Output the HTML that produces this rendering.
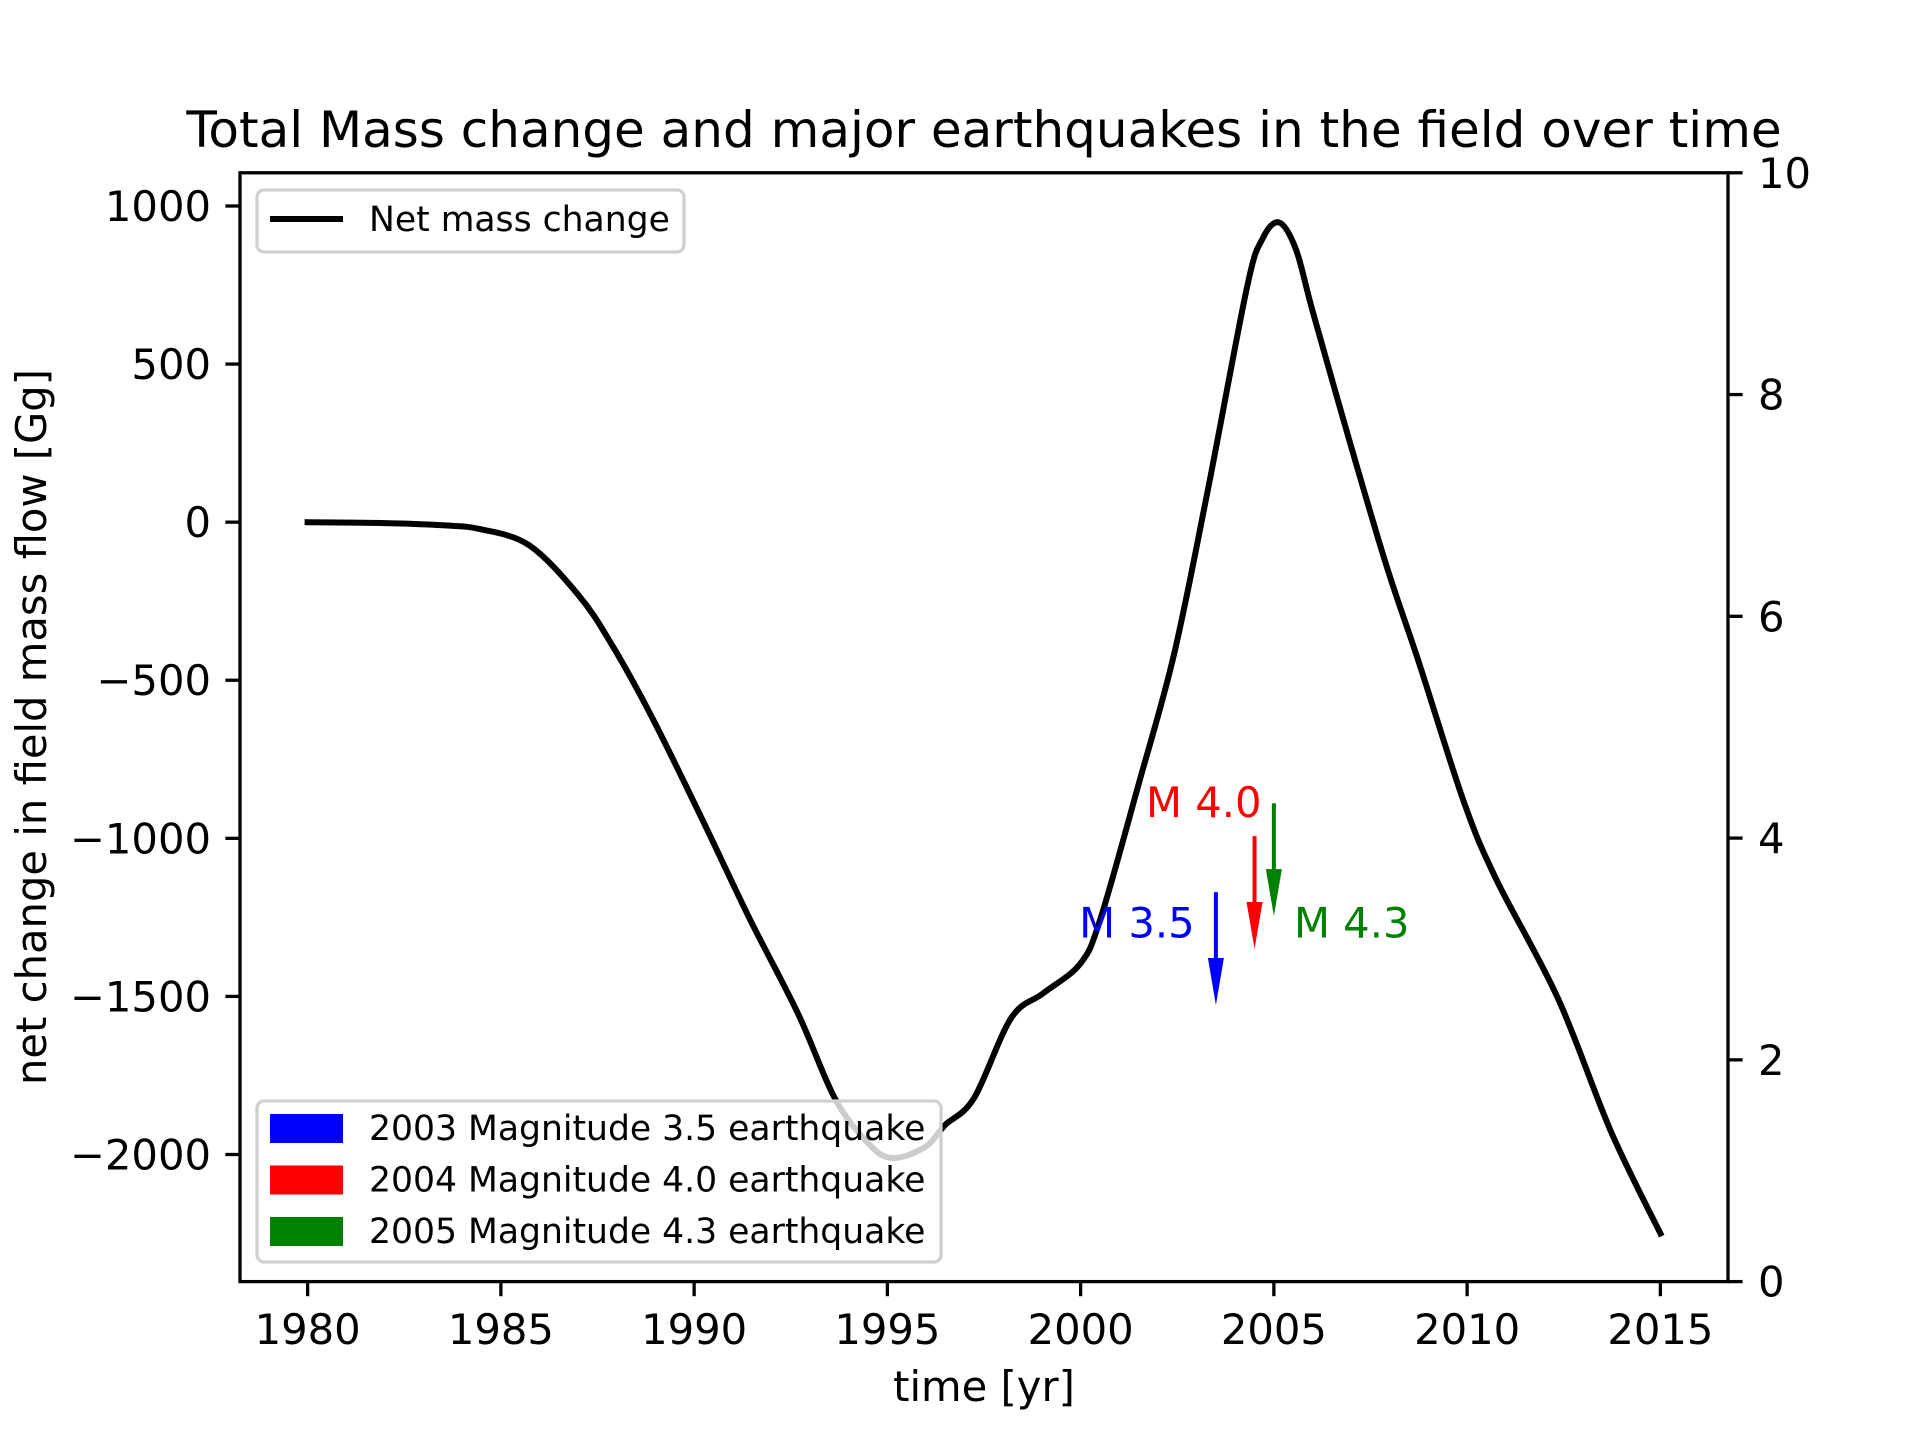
<!DOCTYPE html>
<html><head><meta charset="utf-8"><style>
html,body{margin:0;padding:0;background:#fff;}
svg{display:block;font-family:"DejaVu Sans","Liberation Sans",sans-serif;}
</style></head><body>
<svg id="chart" width="1920" height="1440" viewBox="0 0 1920 1440" xmlns="http://www.w3.org/2000/svg">
<rect width="1920" height="1440" fill="#fff"/>
<text x="984" y="147" font-size="50" text-anchor="middle">Total Mass change and major earthquakes in the field over time</text>
<g id="plot"></g>
</svg>
<script>
const years = [1980,1982,1983.5,1984.46,1985.73,1986.99,1987.85,1988.88,1990.15,1991.42,1992.69,1993.64,1994.5,1995.12,1995.97,1996.49,1997.24,1998.2,1999.03,1999.98,2000.5,2001.5,2002.41,2003.27,2004.3,2004.7,2005.13,2005.57,2006.01,2006.94,2007.9,2008.75,2009.92,2010.75,2012.35,2013.72,2015];
const massValues = [0,-3,-10,-22,-73,-228,-383,-610,-925,-1250,-1555,-1822,-1964,-2011,-1977,-1907,-1822,-1569,-1490,-1398,-1260,-829,-421,88,740,895,948,863,664,265,-133,-443,-886,-1129,-1506,-1927,-2250];
const quakeYears = [2003.5,2004.5,2005.0];
const quakeStart = [-1170,-993,-889];
const quakeLen = [357,357,357];
const quakeLabels = ["M 3.5","M 4.0","M 4.3"];
const quakeLegend = ["2003 Magnitude 3.5 earthquake","2004 Magnitude 4.0 earthquake","2005 Magnitude 4.3 earthquake"];
const quakeColors = ["#0000ff","#ff0000","#008000"];
const xTicks = [1980,1985,1990,1995,2000,2005,2010,2015];
const yTicks = [1000,500,0,-500,-1000,-1500,-2000];
const y2Ticks = [0,2,4,6,8,10];

const L=240,R=1728,T=172.8,B=1281.6;
const xmin=1978.25,xmax=2016.75,ymin=-2402,ymax=1105;
const X=t=>L+(t-xmin)/(xmax-xmin)*(R-L);
const Y=v=>B-(v-ymin)/(ymax-ymin)*(B-T);
const Y2=v=>B-v/10*(B-T);
const NS="http://www.w3.org/2000/svg";
const g=document.getElementById('plot');
function mk(tag,attrs,parent){const e=document.createElementNS(NS,tag);for(const k in attrs)e.setAttribute(k,attrs[k]);(parent||g).appendChild(e);return e;}

const P=years.map((t,i)=>[X(t),Y(massValues[i])]);
let d='M'+P[0][0].toFixed(1)+','+P[0][1].toFixed(1);
for(let i=0;i<P.length-1;i++){
  const p0=P[Math.max(0,i-1)],p1=P[i],p2=P[i+1],p3=P[Math.min(P.length-1,i+2)];
  const c1=[p1[0]+(p2[0]-p0[0])/6,p1[1]+(p2[1]-p0[1])/6];
  const c2=[p2[0]-(p3[0]-p1[0])/6,p2[1]-(p3[1]-p1[1])/6];
  d+='C'+c1.map(v=>v.toFixed(1)).join(',')+' '+c2.map(v=>v.toFixed(1)).join(',')+' '+p2.map(v=>v.toFixed(1)).join(',');
}
const line=mk('path',{d:d,fill:'none',stroke:'#000','stroke-width':6,'stroke-linejoin':'round','stroke-linecap':'square'});



quakeYears.forEach((t,i)=>{
  const x=X(t),y0=Y(quakeStart[i]),y1=Y(quakeStart[i]-quakeLen[i]),hl=47,hw=8,sw=2;
  const p=`M${x-sw},${y0}L${x+sw},${y0}L${x+sw},${y1-hl}L${x+hw},${y1-hl}L${x},${y1}L${x-hw},${y1-hl}L${x-sw},${y1-hl}Z`;
  const a=mk('path',{d:p,fill:quakeColors[i]});
  
  
});
const labPos=[[2002.95,-1313,'end'],[2004.68,-933,'end'],[2005.52,-1313,'start']];
quakeLabels.forEach((s,i)=>{
  const tx=mk('text',{x:X(labPos[i][0]),y:Y(labPos[i][1]),'font-size':41.7,fill:quakeColors[i],'text-anchor':labPos[i][2]});
  tx.textContent=s;
  
  
});

const sp=mk('rect',{x:L,y:T,width:R-L,height:B-T,fill:'none',stroke:'#000','stroke-width':3.3});



xTicks.forEach(t=>{
  mk('line',{x1:X(t),x2:X(t),y1:B,y2:B+14.6,stroke:'#000','stroke-width':3.3});
  const tx=mk('text',{x:X(t),y:1344,'font-size':41.7,'text-anchor':'middle'});tx.textContent=t;
  
  
});
yTicks.forEach(v=>{
  mk('line',{x1:L-14.6,x2:L,y1:Y(v),y2:Y(v),stroke:'#000','stroke-width':3.3});
  const tx=mk('text',{x:211,y:Y(v)+15,'font-size':41.7,'text-anchor':'end'});tx.textContent=(v<0?'\u2212'+(-v):v);
  
  
});
y2Ticks.forEach(v=>{
  mk('line',{x1:R,x2:R+14.6,y1:Y2(v),y2:Y2(v),stroke:'#000','stroke-width':3.3});
  const tx=mk('text',{x:1758,y:Y2(v)+15,'font-size':41.7,'text-anchor':'start'});tx.textContent=v;
  
  
});
const xl=mk('text',{x:984,y:1401,'font-size':41.7,'text-anchor':'middle'});xl.textContent='time [yr]';


const yl=mk('text',{x:0,y:0,'font-size':41.7,'text-anchor':'middle',transform:'translate(46,727) rotate(-90)'});yl.textContent='net change in field mass flow [Gg]';



const lg1=mk('g',{});


mk('rect',{x:257,y:190,width:427,height:62,rx:7,fill:'rgba(255,255,255,0.8)',stroke:'#d0d0d0','stroke-width':3.3},lg1);
mk('line',{x1:270,x2:343,y1:219,y2:219,stroke:'#000','stroke-width':6},lg1);
const t1=mk('text',{x:369,y:231,'font-size':34.6},lg1);t1.textContent='Net mass change';



const lg2=mk('g',{});


mk('rect',{x:257,y:1101,width:684,height:161,rx:7,fill:'rgba(255,255,255,0.8)',stroke:'#d0d0d0','stroke-width':3.3},lg2);
quakeLegend.forEach((s,i)=>{
  const y=1114+i*51.5;
  mk('rect',{x:270,y:y,width:73,height:29,fill:quakeColors[i]},lg2);
  const tx=mk('text',{x:369,y:y+26,'font-size':34.6},lg2);tx.textContent=s;
  
  
});
</script>
</body></html>
